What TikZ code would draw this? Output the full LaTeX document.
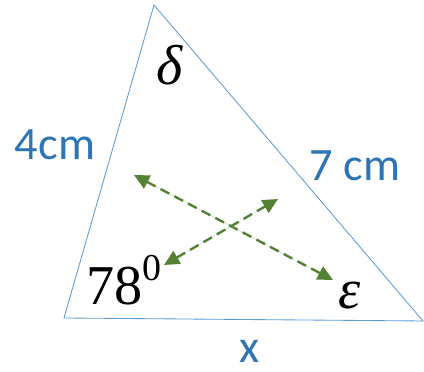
\documentclass[tikz,border=0pt]{standalone}
\usepackage{fontspec}
\setsansfont{Carlito}
\newfontfamily\anglefont{Liberation Serif}
\usepackage{tikz}
\usetikzlibrary{arrows.meta}

\definecolor{sideblue}{RGB}{91,155,213}
\definecolor{labelblue}{RGB}{46,117,182}
\definecolor{arrowgreen}{RGB}{84,130,53}

\newcommand{\degsup}[1]{\raisebox{0.42em}{\fontsize{27}{30}\selectfont #1}}

\begin{document}
\begin{tikzpicture}[
      x=0.025cm,
      y=-0.025cm,
      side/.style={draw=sideblue, line width=0.6pt},
      sidelabel/.style={
        font=\fontsize{33}{36}\selectfont\sffamily,
        text=labelblue,
        inner sep=0pt
      },
      anglelabel/.style={
        font=\fontsize{40}{44}\selectfont\anglefont,
        text=black,
        inner sep=0pt
      },
      swap/.style={
        {Triangle[length=3.8mm,width=3.6mm]}-{Triangle[length=3.8mm,width=3.6mm]},
        draw=arrowgreen,
        fill=arrowgreen,
        dash pattern=on 7pt off 4pt,
        line width=1.7pt
      }
    ]
    \useasboundingbox (0,0) rectangle (424,372);

    \coordinate (top) at (154,5);
    \coordinate (left) at (64,318);
    \coordinate (right) at (423,321);

    \draw[side] (top) -- (left) -- (right) -- cycle;

    \node[anglelabel] (delta) at (170,65) {\itshape δ};
    \node[anglelabel] (deg) at (124,280) {78\degsup{0}};
    \node[anglelabel] (eps) at (350,296) {\itshape ε};

    \node[sidelabel] (lefts) at (55,145) {4cm};
    \node[sidelabel] (rights) at (355,166) {7 cm};
    \node[sidelabel] (bottoms) at (250,351) {x};

    \coordinate (a1) at (134,175);
    \coordinate (a2) at (333,280);
    \coordinate (b1) at (164,265);
    \coordinate (b2) at (278,199);

    \draw[swap] (a1) -- (a2);
    \draw[swap] (b1) -- (b2);
  \end{tikzpicture}
\end{document}
